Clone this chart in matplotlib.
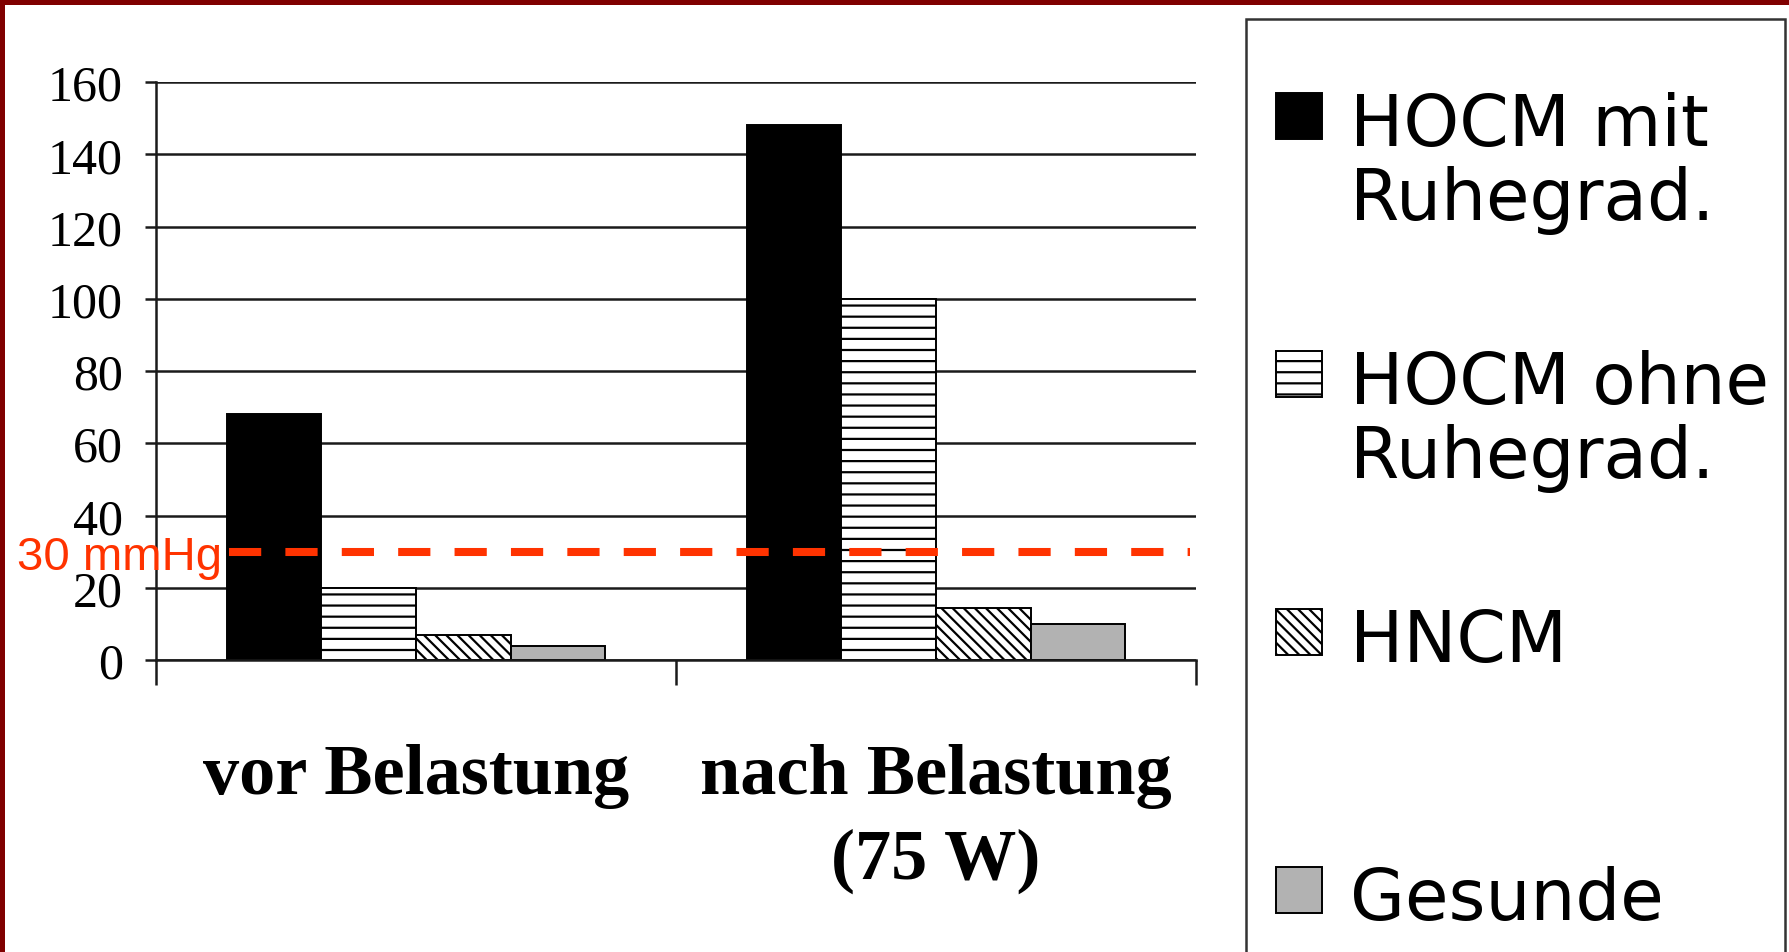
import matplotlib
matplotlib.use('Agg')
import matplotlib.pyplot as plt
from matplotlib.patches import Rectangle
import numpy as np

# Druckgradient (mmHg) je Gruppe, vor und nach Belastung
categories = ['vor Belastung', 'nach Belastung\n(75 W)']
series_labels = ['HOCM mit\nRuhegrad.', 'HOCM ohne\nRuhegrad.', 'HNCM', 'Gesunde']
hocm_mit = [68, 148]
hocm_ohne = [20, 100]
hncm = [7, 14.5]
gesunde = [4, 10]
threshold = 30
y_ticks = [0, 20, 40, 60, 80, 100, 120, 140, 160]

# ─── Stil ────────────────────────────────────────────────────────────────────

STYLES = [
    dict(facecolor='#000000', hatch=None),
    dict(facecolor='#FFFFFF', hatch='---'),
    dict(facecolor='#FFFFFF', hatch='\\\\\\\\\\\\'),
    dict(facecolor='#B2B2B2', hatch=None),
]
RED = '#FF3300'
FRAME = '#800000'
LINE = '#1A1A1A'

W, H, DPI = 1789, 953, 200


def fx(px):
    return px / W


def fy(py):
    return 1 - py / H


plt.rcParams.update({
    'hatch.linewidth': 0.8,
    'hatch.color': 'black',
    'font.family': 'DejaVu Sans',
})

fig = plt.figure(figsize=(W / DPI, H / DPI), dpi=DPI)
fig.patch.set_facecolor('white')

ax = fig.add_axes([fx(156), fy(661), fx(1196) - fx(156), fy(83) - fy(661)])

x = np.arange(len(categories)) + 0.5
bar_w = 0.182
for i, (vals, st) in enumerate(zip([hocm_mit, hocm_ohne, hncm, gesunde], STYLES)):
    ax.bar(x + (i - 1.5) * bar_w, vals, bar_w, color=st['facecolor'], hatch=st['hatch'],
           edgecolor='black', linewidth=0.7, zorder=2)

# Grenzwert
ax.axhline(threshold, xmin=0.07, xmax=0.994, color=RED, linewidth=2.9,
           linestyle=(0, (4, 3)), zorder=3)
ax.text(0.127, threshold, f'{threshold} mmHg', ha='right', va='center_baseline',
        color=RED, fontsize=17, family='Liberation Sans', clip_on=False, zorder=4)

ax.set_xlim(0, 2)
ax.set_ylim(0, 160)
ax.set_yticks(y_ticks)
ax.set_xticks([0, 1, 2])
ax.set_xticklabels([])
ax.set_xticks(x, minor=True)
ax.set_xticklabels(categories, minor=True, fontfamily='Liberation Serif',
                   fontweight='bold', fontsize=26, linespacing=1.38)
ax.tick_params(axis='x', which='major', length=9, width=0.9, direction='out', color=LINE)
ax.tick_params(axis='x', which='minor', length=0, pad=30)
ax.tick_params(axis='y', length=4, width=0.9, direction='out', pad=8,
               labelsize=18, color=LINE)
for lbl in ax.get_yticklabels():
    lbl.set_fontfamily('Liberation Serif')

ax.yaxis.grid(True, color=LINE, linewidth=0.9)
ax.set_axisbelow(True)
ax.set_facecolor('none')
ax.spines['top'].set_visible(False)
ax.spines['right'].set_visible(False)
for s in ('left', 'bottom'):
    ax.spines[s].set_linewidth(0.9)
    ax.spines[s].set_color(LINE)

# Legende (eigener Kasten rechts, läuft über den Rand hinaus)
fig.add_artist(Rectangle((fx(1246), fy(H + 10)), fx(1785) - fx(1246), (H + 10 - 20) / H,
                         transform=fig.transFigure, fill=False, edgecolor='#333333',
                         linewidth=0.9))
for i, (label, st) in enumerate(zip(series_labels, STYLES)):
    top = 94 + i * 258
    fig.add_artist(Rectangle((fx(1276), fy(top + 46)), fx(46), 46 / H,
                             transform=fig.transFigure, facecolor=st['facecolor'],
                             hatch=st['hatch'], edgecolor='black', linewidth=0.7))
    fig.text(fx(1350), fy(top - 2), label, ha='left', va='top', fontsize=25.5,
             family='DejaVu Sans', linespacing=1.1)

# Rahmen oben und links
fig.add_artist(Rectangle((0, fy(6)), 1, 6 / H, transform=fig.transFigure,
                         color=FRAME, linewidth=0))
fig.add_artist(Rectangle((0, 0), fx(5), 1, transform=fig.transFigure,
                         color=FRAME, linewidth=0))

fig.savefig('out.png', dpi=DPI)
